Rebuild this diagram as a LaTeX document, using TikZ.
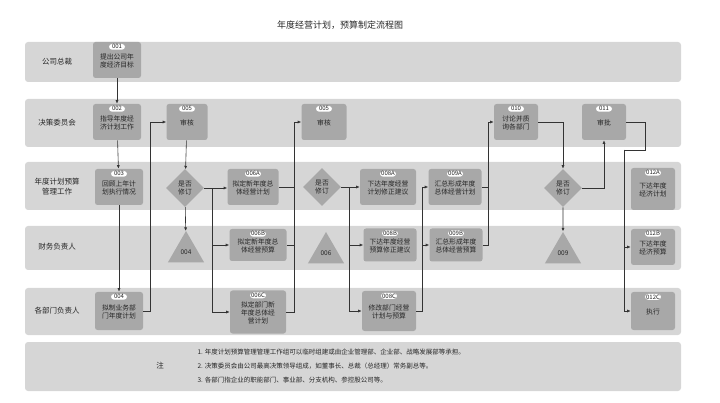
\documentclass[tikz,border=0pt]{standalone}
\usepackage{fontspec}
\setmainfont{Noto Sans CJK SC}
\usetikzlibrary{shapes.geometric, arrows.meta, positioning}
\definecolor{lanegray}{HTML}{D6D6D6}
\definecolor{boxgray}{HTML}{A8A8A8}
\definecolor{linegray}{HTML}{333333}
\tikzstyle{lane}=[fill=lanegray,draw=none,rounded corners=3pt]
\tikzstyle{task}=[fill=boxgray,rounded corners=2.5pt,align=center,font=\fontsize{6.8}{8}\selectfont,minimum width=48pt,minimum height=36pt,inner sep=1pt]
\tikzstyle{badge}=[fill=white,rounded corners=3pt,inner sep=0.6pt,minimum width=16pt,font=\fontsize{6}{6}\selectfont]
\tikzstyle{check}=[diamond,fill=boxgray,aspect=1,minimum size=38pt,inner sep=0pt,align=center,font=\fontsize{6.8}{8}\selectfont]
\tikzstyle{stop}=[regular polygon,regular polygon sides=3,fill=boxgray,minimum size=42pt,inner sep=0pt,font=\fontsize{6.5}{7}\selectfont]
\tikzstyle{every node}=[text=black!85]
\tikzset{num/.style={label={[badge,anchor=north,yshift=-2pt]north:#1}}}

\begin{document}
\begin{tikzpicture}[x=1pt,y=-1pt,>={Latex[length=3.5pt,width=3pt]},line width=0.6pt,draw=linegray]
  \useasboundingbox (0,0) rectangle (720,403);
  \node[font=\fontsize{9}{10}\selectfont] (title) at (340,25) {年度经营计划，预算制定流程图};
  % lanes
  \draw[lane] (25,42) rectangle (681,82);
  \draw[lane] (25,99) rectangle (681,147);
  \draw[lane] (25,162) rectangle (681,210);
  \draw[lane] (25,226) rectangle (681,270);
  \draw[lane] (25,288) rectangle (681,335);
  \draw[lane] (25,342) rectangle (681,391);
  \tikzset{every node/.append style={font=\fontsize{7.5}{10}\selectfont}}
  \node (l1) at (57,62) {公司总裁};
  \node (l2) at (57,123) {决策委员会};
  \node[align=center] (l3) at (57,187) {年度计划预算\\管理工作};
  \node (l4) at (57,247) {财务负责人};
  \node (l5) at (57,311) {各部门负责人};
  % notes
  \node (note) at (160,366) {注};
  \node[anchor=west,align=left,font=\fontsize{6.5}{14}\selectfont] (notes) at (194,366)
    {1. 年度计划预算管理管理工作组可以临时组建或由企业管理部、企业部、战略发展部等承担。\\
     2. 决策委员会由公司最高决策领导组成，如董事长、总裁（总经理）常务副总等。\\
     3. 各部门指企业的职能部门、事业部、分支机构、参控股公司等。};
  % tasks
  \node[task,num=001] (n001) at (117,60) {\mbox{}\\提出公司年\\度经济目标};
  \node[task,num=002] (n002) at (117,122) {\mbox{}\\指导年度经\\济计划工作};
  \node[task,num=003] (n003) at (119,187) {\mbox{}\\回顾上年计\\划执行情况};
  \node[task,num=004,minimum height=38pt] (n004) at (119,311) {\mbox{}\\拟制业务部\\门年度计划};
  \node[task,num=005,minimum width=41pt] (n005a) at (187,122) {\mbox{}\\审核};
  \node[check] (d1) at (185,188) {是否\\修订};
  \node[stop] (t004) at (186,252) {\raisebox{-6pt}{004}};
  \node[task,num=006A,minimum width=51pt] (n006A) at (253,187) {\mbox{}\\拟定新年度总\\体经营计划};
  \node[task,num=006B,minimum width=57pt,minimum height=32pt] (n006B) at (258,245) {\mbox{}\\拟定新年度总\\体经营预算};
  \node[task,num=006C,minimum width=56pt,minimum height=43pt] (n006C) at (258,312) {\mbox{}\\拟定部门新\\年度总体经\\营计划};
  \node[task,num=005,minimum width=45pt] (n005b) at (324,122) {\mbox{}\\审核};
  \node[check] (d2) at (322,187) {是否\\修订};
  \node[stop] (t006) at (326,253) {\raisebox{-6pt}{006}};
  \node[task,num=008A,minimum width=56pt] (n008A) at (388,187) {\mbox{}\\下达年度经营\\计划修正建议};
  \node[task,num=008B,minimum width=53pt,minimum height=33pt] (n008B) at (390,245) {\mbox{}\\下达年度经营\\预算修正建议};
  \node[task,num=008C,minimum width=54pt,minimum height=40pt] (n008C) at (389,311) {\mbox{}\\修改部门经营\\计划与预算};
  \node[task,num=009A,minimum width=53pt] (n009A) at (455,187) {\mbox{}\\汇总形成年度\\总体经营计划};
  \node[task,num=009B,minimum width=53pt,minimum height=33pt] (n009B) at (456,245) {\mbox{}\\汇总形成年度\\总体经营预算};
  \node[task,num=010,minimum width=44pt] (n010) at (516,122) {\mbox{}\\讨论并质\\询各部门};
  \node[check] (d3) at (563,188) {是否\\修订};
  \node[stop] (t009) at (563,253) {\raisebox{-6pt}{009}};
  \node[task,num=011,minimum width=44pt] (n011) at (604,122) {\mbox{}\\审批};
  \node[task,num=012A,minimum width=44pt,minimum height=42pt] (n012A) at (653,189) {\mbox{}\\下达年度\\经济计划};
  \node[task,num=012B,minimum width=44pt] (n012B) at (653,247) {\mbox{}\\下达年度\\经济预算};
  \node[task,num=012C,minimum width=44pt,minimum height=38pt] (n012C) at (653,311) {\mbox{}\\执行};
  % bus lines
  \coordinate (v1) at (294,0);
  \coordinate (v2) at (422,0);
  \coordinate (v3) at (488,0);
  \coordinate (v4) at (624,150);
  % connectors
  \draw[->] (n001) -- (n002);
  \draw[->] (n002) -- (n003);
  \draw[->] (n003) -- (n004);
  \draw[->] (n004.east) -- ++(7,0) |- (n005a.west);
  \draw[->] (n005a) -- (d1);
  \draw[->] (d1) -- (t004);
  \draw[->] (d1.east) -- (n006A.west |- d1);
  \draw[->] (d1.east) -- ++(8,0) |- (n006B.west);
  \draw[->] (d1.east) -- ++(8,0) |- (n006C.west);
  \draw (n006A.east) -- (n006A.east -| v1);
  \draw (n006B.east) -- (n006B.east -| v1);
  \draw[->] (n006C.east) -- (n006C.east -| v1) |- (n005b.west);
  \draw[->] (d2.east) -- (n008A.west |- d2);
  \draw[->] (d2.east) -- ++(8,0) |- (n008B.west);
  \draw[->] (d2.east) -- ++(8,0) |- (n008C.west);
  \draw[->] (n008C.east) -- (n008C.east -| v2) |- (n009A.west);
  \draw[->] (n008C.east -| v2) |- (n009B.west);
  \draw (n009A.east) -- (n009A.east -| v3);
  \draw[->] (n009B.east) -- (n009B.east -| v3) |- (n010.west);
  \draw[->] (n010.east) -| (d3.north);
  \draw[->] (d3) -- (t009);
  \draw[->] (d3.east) -| (n011.south);
  \draw (n011.east) -- ++(19,0) |- (v4);
  \draw[->] (v4) |- (n012B.west);
  \draw[->] (v4) |- (n012C.west);
\end{tikzpicture}
\end{document}
